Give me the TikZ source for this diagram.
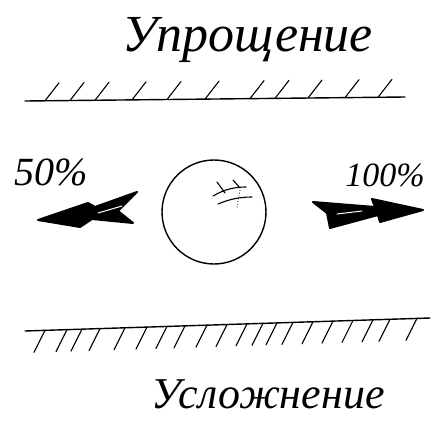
\documentclass[tikz,border=0pt]{standalone}
\usepackage{fontspec}
\setmainfont{Liberation Serif}
\usetikzlibrary{positioning, calc}

\tikzset{
    hand/.style={font=\itshape\fontsize{#1}{#1}\selectfont, inner sep=0pt},
    ground/.style={line width=1.4pt, line cap=round},
    hatch/.style={line width=1.1pt, line cap=round},
    dart/.style={fill=black, draw=black, line width=2pt, line join=round},
    stripe/.style={white, line width=1pt, line cap=round},
    scribble/.style={line width=1.1pt, line cap=round}
}

\begin{document}
\begin{tikzpicture}[x=1pt, y=-1pt]
    \useasboundingbox (0,0) rectangle (432,421);
    \node[hand=52] (easy) at (248,40) {Упрощение};
    \node[hand=44] (hard) at (268,394) {Усложнение};
    % upper ground, hatched above
    \draw[ground] (25,101) -- (405,97);
    \foreach \x in {45,70,95,132,167,205,250,275,308,345,378}
        \draw[hatch] (\x,{101-(\x-25)*0.0105}) -- ++(14,-18);
    % lower ground, hatched below
    \draw[ground] (25,331) -- (430,318);
    \foreach \x in {45,67,82,100,125,147,167,185,207,227,247,263,277,293,313,333,353,373,390,417}
        \draw[hatch] (\x,{331-(\x-25)*0.032}) -- ++(-11,22);
    % ball
    \node[draw, circle, line width=1.4pt, minimum size=104pt] (ball) at (214,212) {};
    \draw[scribble] (213,196) .. controls (225,189) and (235,187) .. (246,187);
    \draw[scribble] (218,204) .. controls (230,199) and (240,197) .. (252,197);
    \draw[scribble] (217,182) -- (225,193);
    \draw[scribble] (233,180) -- (240,188);
    \draw[line width=0.8pt, dotted] (240,190) -- (237,208);
    % arrows
    \coordinate (ltip) at (38,220);
    \coordinate (rtip) at (423,210);
    \filldraw[dart] (ltip) -- (88,203) -- (95,207) -- (137,192) -- (118,211) -- (133,223)
        -- (92,219) -- (80,227) -- cycle;
    \draw[stripe] (98,213) -- (122,206);
    \filldraw[dart] (313,202) -- (375,207) -- (372,199) -- (rtip) -- (380,222) -- (378,215)
        -- (330,228) -- (327,213) -- cycle;
    \draw[stripe] (337,214) -- (362,211);
    \node[hand=40] (half) at (51,172) {50\%};
    \node[hand=34] (full) at (385,175) {100\%};
\end{tikzpicture}
\end{document}
